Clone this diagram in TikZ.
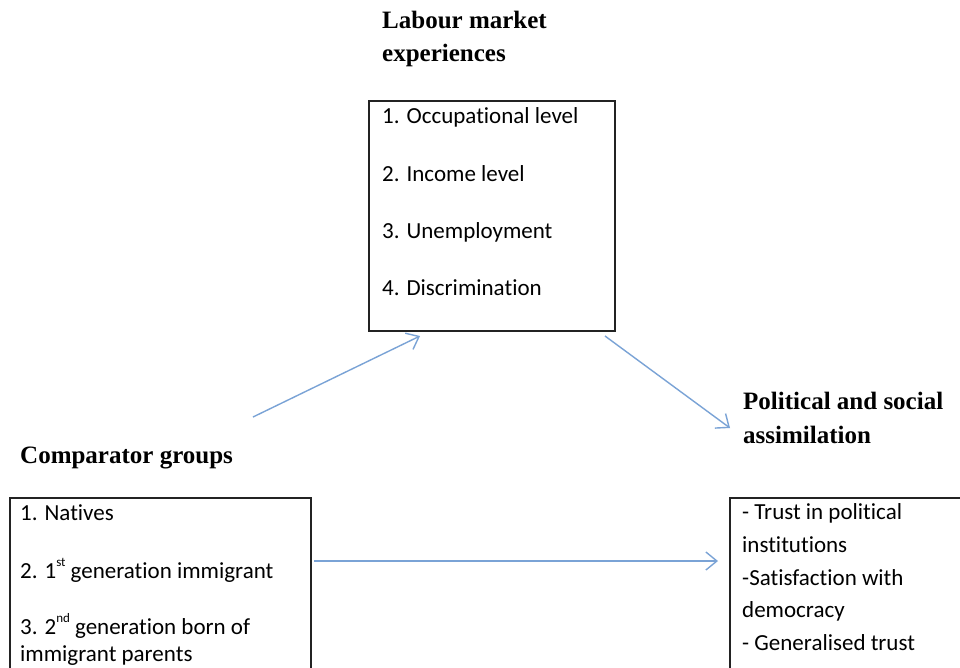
\documentclass[tikz,border=0pt]{standalone}
\usepackage{fontspec}
\setmainfont{Carlito}[RawFeature={-liga;-clig;-calt;-dlig}]
\newfontfamily\headfont{Liberation Serif}
\usetikzlibrary{arrows.meta}
\definecolor{arrowblue}{RGB}{122,163,214}
\definecolor{boxline}{RGB}{35,35,35}
\tikzset{
  boxframe/.style={draw=boxline, line width=1.6pt, anchor=north west, inner sep=0pt},
  item/.style={anchor=base west, inner sep=0pt, font=\fontsize{23}{27}\selectfont},
  heading/.style={anchor=base west, inner sep=0pt, font=\headfont\bfseries\fontsize{25}{30}\selectfont},
  flow/.style={draw=arrowblue, line width=1.4pt, -{Straight Barb[length=11pt,width=18pt,line width=1.4pt]}}
}
\newcommand{\supr}[1]{\raisebox{0.5em}{\fontsize{13}{13}\selectfont #1}}
\begin{document}
\begin{tikzpicture}[x=1pt,y=-1pt]
\useasboundingbox (0,0) rectangle (960,667);
\fill[white] (0,0) rectangle (960,667);
\begin{scope}
\clip (0,0) rectangle (960,667);
% boxes
\node[boxframe, minimum width=246pt, minimum height=230pt] (labbox) at (368,100) {};
\node[boxframe, minimum width=301pt, minimum height=250pt] (compbox) at (9,497) {};
\node[boxframe, minimum width=300pt, minimum height=250pt] (polbox) at (729,497) {};
% headings
\node[heading] (h1a) at (382,28) {Labour market};
\node[heading] (h1b) at (382,61) {experiences};
\node[heading] (h2) at (20,463) {Comparator groups};
\node[heading] (h3a) at (743,409) {Political and social};
\node[heading] (h3b) at (743,443) {assimilation};
% top box items
\node[item] (l1) at (382,123) {1. Occupational level};
\node[item] (l2) at (382,181) {2. Income level};
\node[item] (l3) at (382,238) {3. Unemployment};
\node[item] (l4) at (382,295) {4. Discrimination};
% left box items
\node[item] (c1) at (20,520) {1. Natives};
\node[item] (c2) at (20,578) {2. 1\supr{st} generation immigrant};
\node[item] (c3) at (20,634) {3. 2\supr{nd} generation born of};
\node[item] (c4) at (20,661) {immigrant parents};
% right box items
\node[item] (p1) at (742,519) {- Trust in political};
\node[item] (p2) at (742,552) {institutions};
\node[item] (p3) at (742,585) {-Satisfaction with};
\node[item] (p4) at (742,617) {democracy};
\node[item] (p5) at (742,650) {- Generalised trust};
% connector ends
\coordinate (a1s) at (253,417);
\coordinate (a1e) at (420,336);
\coordinate (a2s) at (605,336);
\coordinate (a2e) at (730,428);
\coordinate (a3s) at (314,561);
\coordinate (a3e) at (718,561);
\draw[flow] (a1s) -- (a1e);
\draw[flow] (a2s) -- (a2e);
\draw[flow] (a3s) -- (a3e);
\end{scope}
\end{tikzpicture}
\end{document}
